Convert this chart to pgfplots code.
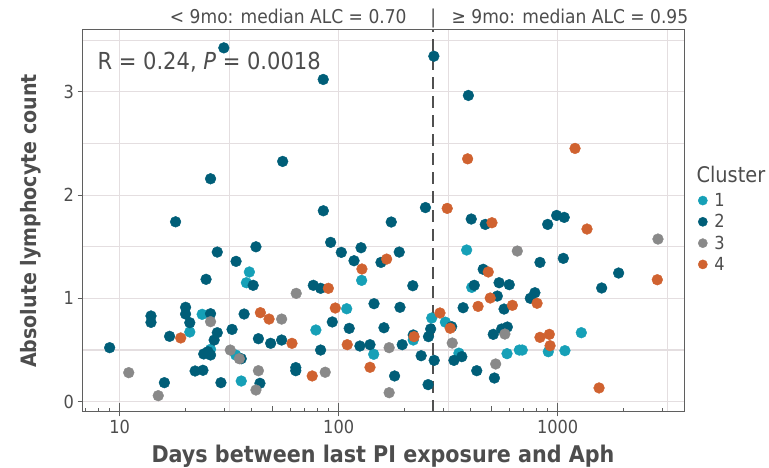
\documentclass[border=0pt]{standalone}
\usepackage{fontspec}
\setmainfont{DejaVu Sans Condensed}
\usepackage{pgfplots}
\usepackage{pgfplotstable}
\pgfplotsset{compat=1.18}
\definecolor{cA}{RGB}{22,160,183}
\definecolor{cB}{RGB}{0,94,120}
\definecolor{cC}{RGB}{137,137,137}
\definecolor{cD}{RGB}{208,98,48}
\definecolor{gridc}{RGB}{228,222,224}
\definecolor{framec}{RGB}{95,95,95}
\definecolor{dashc}{RGB}{80,80,80}
\definecolor{textc}{RGB}{77,77,77}

\pgfplotstableread{
days alc
20.9 0.675
23.8 0.846
26.0 0.507
33.9 0.452
35.9 0.200
39.1 1.256
37.9 1.152
78.7 0.694
108.8 0.900
144.5 0.459
127.3 1.175
219 0.597
266 0.810
307 0.770
354 0.470
384 1.469
405 1.107
587 0.465
668 0.500
689 0.500
906 0.484
1079 0.494
1282 0.668
}\clA

\pgfplotstableread{
days alc
9.0 0.523
16.0 0.184
13.9 0.830
13.9 0.768
16.9 0.633
20.0 0.914
20.0 0.849
20.9 0.765
26.0 0.852
27.9 0.668
27.0 0.597
24.2 0.462
25.3 0.484
26.0 0.452
22.1 0.297
24.0 0.304
29.0 0.184
32.6 0.700
35.9 0.416
37.0 0.849
43.0 0.610
43.7 0.178
48.9 0.565
54.9 0.597
63.7 0.330
63.7 0.300
82.7 0.500
76.6 1.127
82.7 1.098
93.5 0.772
111.7 0.710
125 0.539
139 0.552
180 0.249
161 0.716
145 0.949
190.5 0.914
218 1.123
219 0.646
238 0.445
256 0.165
257 0.630
263 0.704
18.0 1.742
26.0 2.159
29.9 3.427
85.0 3.121
55.5 2.327
85.1 1.849
91.9 1.543
102.8 1.446
117.5 1.365
126.5 1.491
173.8 1.740
189 1.449
156 1.349
249 1.880
27.9 1.449
34.0 1.359
41.9 1.500
40.7 1.127
24.8 1.185
272 3.346
391 2.966
403 1.769
467 1.717
900 1.717
989 1.804
1071 1.785
830 1.349
1061 1.388
1898 1.246
1588 1.101
457 1.282
416 1.127
540 1.152
601 1.133
530 1.023
569 0.897
750 1.001
787 1.055
370 0.910
328 0.726
195 0.552
273 0.400
336 0.400
365 0.436
427 0.300
508 0.652
555 0.704
589 0.723
514 0.229
}\clB

\pgfplotstableread{
days alc
11.0 0.281
15.0 0.058
26.0 0.775
32.0 0.500
35.2 0.416
43.0 0.300
41.9 0.113
54.9 0.800
64.0 1.049
86.8 0.285
170 0.523
170 0.087
330 0.568
521 0.365
574 0.655
654 1.459
2870 1.575
}\clC

\pgfplotstableread{
days alc
19.0 0.617
43.9 0.862
48.1 0.800
61.2 0.565
75.7 0.249
89.7 1.098
96.5 0.907
109.4 0.552
139 0.333
127.7 1.285
165.6 1.381
221 0.630
290 0.859
323 0.711
313 1.872
388 2.352
1200 2.453
501 1.733
1361 1.672
2850 1.181
482 1.256
492 1.004
433 0.923
621 0.933
805 0.953
830 0.623
916 0.652
923 0.542
1545 0.133
}\clD

\begin{document}
\begin{tikzpicture}[x=1pt,y=1pt]
\useasboundingbox (0,0) rectangle (769,468);
\begin{axis}[
  at={(82pt,56pt)}, anchor=south west,
  width=602pt, height=382pt, scale only axis,
  xmode=log, log basis x=10,
  xmin=6.73, xmax=3774, ymin=-0.1, ymax=3.6,
  xtick={10,100,1000}, xticklabels={10,100,1000},
  ytick={0,1,2,3}, yticklabels={0,1,2,3},
  minor xtick={3.1623,31.623,316.23,3162.3},
  minor ytick={0.5,1.5,2.5,3.5},
  grid=both,
  major grid style={draw=gridc, line width=1.1pt},
  minor grid style={draw=gridc, line width=1.1pt},
  axis line style={draw=framec, line width=1pt},
  tick style={draw=framec, line width=1pt},
  tick align=outside, tick pos=left,
  major tick length=4.5pt, minor tick length=0pt,
  ticklabel style={font=\fontsize{18}{18}\selectfont, text=textc},
  xlabel={Days between last PI exposure and Aph},
  ylabel={Absolute lymphocyte count},
  x label style={font=\bfseries\fontsize{23}{23}\selectfont, text=textc,
    at={(axis description cs:0.5,-0.131)}, anchor=base},
  y label style={font=\bfseries\fontsize{21.2}{21.2}\selectfont, text=textc,
    at={(axis description cs:-0.0748,0.5)}, anchor=base},
  clip=false,
  legend style={draw=none, fill=none, at={(1.0216,0.581)}, anchor=north west,
    font=\fontsize{18}{18}\selectfont, text=textc, row sep=2.5pt,
    column sep=5pt, inner sep=1pt},
  legend cell align=left,
  legend image post style={mark size=4.6pt},
]
\draw[dashc, line width=1.6pt, dash pattern=on 12pt off 7pt] (axis cs:270,-0.1) -- (axis cs:270,3.6);
\addplot[only marks, mark=*, mark size=5.4pt, color=cA] table[x=days,y=alc] {\clA};
\addlegendentry{1}
\addplot[only marks, mark=*, mark size=5.4pt, color=cB] table[x=days,y=alc] {\clB};
\addlegendentry{2}
\addplot[only marks, mark=*, mark size=5.4pt, color=cC] table[x=days,y=alc] {\clC};
\addlegendentry{3}
\addplot[only marks, mark=*, mark size=5.4pt, color=cD] table[x=days,y=alc] {\clD};
\addlegendentry{4}
\node[anchor=base west, text=textc, font=\fontsize{23.4}{23.4}\selectfont] at ([xshift=12pt,yshift=-40pt]rel axis cs:0,1) {R = 0.24, \textit{P} = 0.0018};
\node[anchor=base east, text=textc, font=\fontsize{19}{19}\selectfont] at ([xshift=-23pt,yshift=6pt]axis cs:270,3.6) {< 9mo: median ALC = 0.70};
\node[anchor=base, text=textc, font=\fontsize{19}{19}\selectfont] at ([yshift=6pt]axis cs:270,3.6) {|};
\node[anchor=base west, text=textc, font=\fontsize{19}{19}\selectfont] at ([xshift=15pt,yshift=6pt]axis cs:270,3.6) {≥ 9mo: median ALC = 0.95};
\node[anchor=base west, text=textc, font=\fontsize{21.5}{21.5}\selectfont] at ([xshift=9pt]axis description cs:1,0.602) {Cluster};
\end{axis}
% overlay axis for the logarithmic tick marks along the bottom
\begin{axis}[
  at={(82pt,56pt)}, anchor=south west,
  width=602pt, height=382pt, scale only axis,
  xmode=log, log basis x=10,
  xmin=6.73, xmax=3774, ymin=-0.1, ymax=3.6,
  axis x line*=bottom, axis y line=none,
  axis line style={draw=framec, line width=1pt},
  tick style={draw=framec, line width=1pt},
  tick align=inside,
  xtick={20,30,40,60,70,80,90,200,300,400,600,700,800,900,2000,3000,7,8,9},
  xticklabels={},
  major tick length=3.5pt,
  minor xtick={50,500}, minor tick length=6pt,
  extra x ticks={10,100,1000}, extra x tick labels={},
  extra x tick style={major tick length=9pt},
]
\addplot[draw=none] coordinates {(10,0)};
\end{axis}
\end{tikzpicture}
\end{document}
